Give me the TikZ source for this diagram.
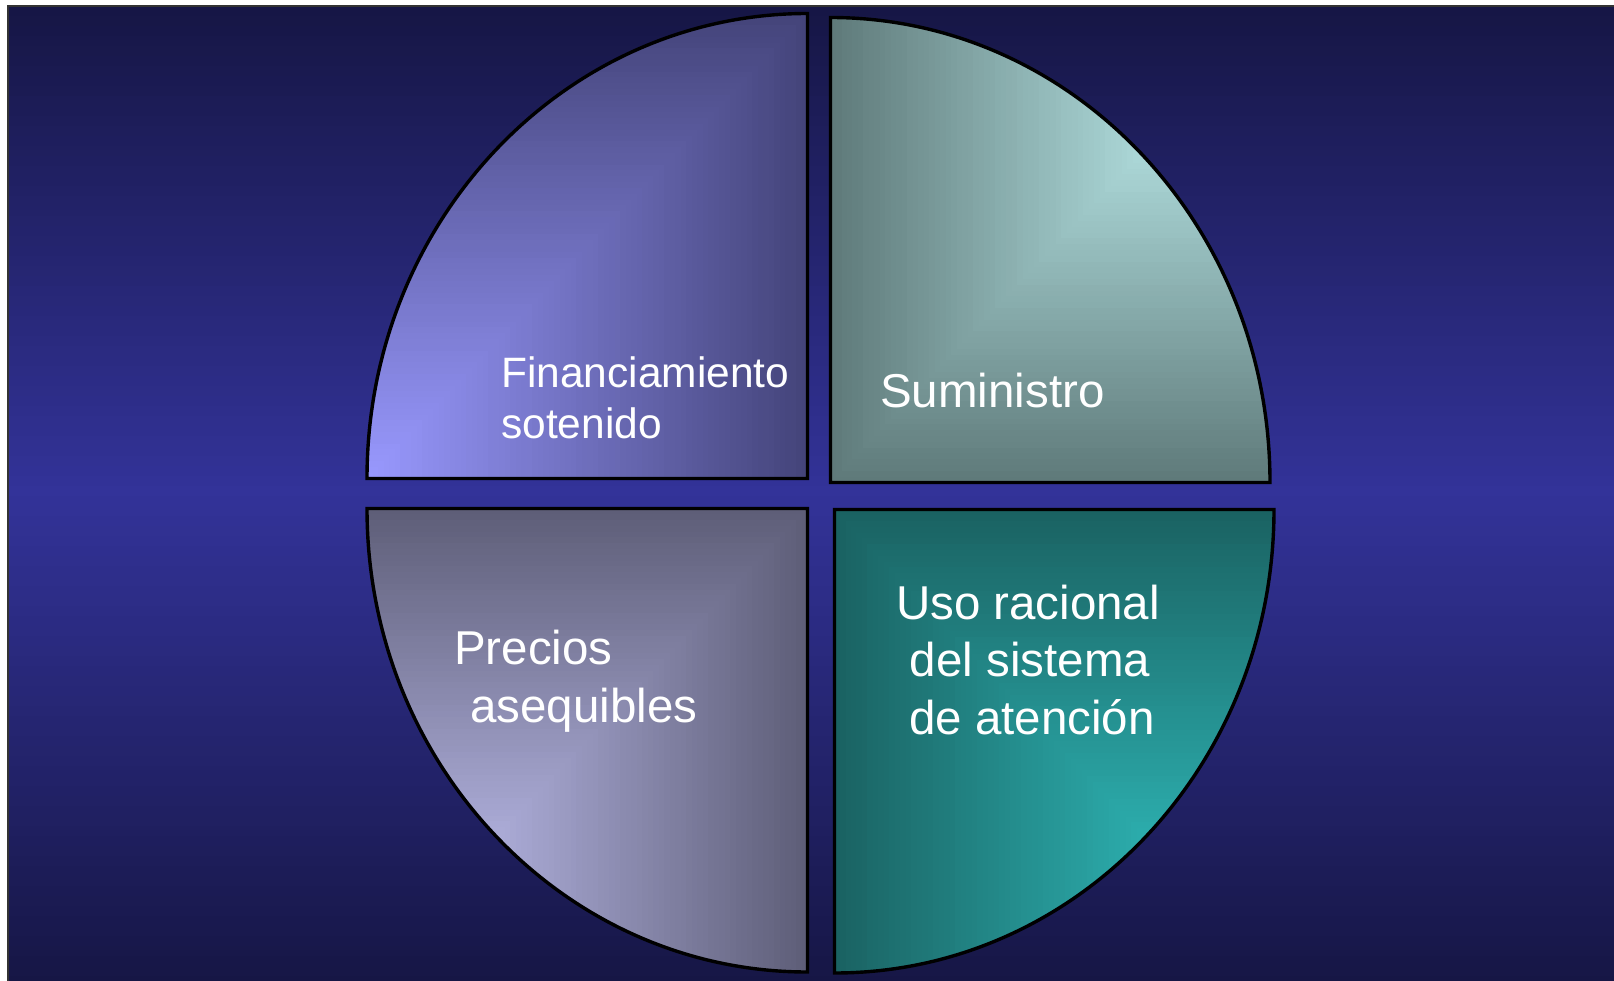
\documentclass[tikz,border=0pt]{standalone}
\usepackage{fontspec}
\setmainfont{Liberation Sans}
\definecolor{bgdark}{HTML}{161645}
\definecolor{bgmid}{HTML}{333399}
\definecolor{tlL}{HTML}{9999FF}\definecolor{tlD}{HTML}{44447A}
\definecolor{trL}{HTML}{CCFFFF}\definecolor{trD}{HTML}{5F7A7A}
\definecolor{blL}{HTML}{CCCCFF}\definecolor{blD}{HTML}{5E5E78}
\definecolor{brL}{HTML}{33CCCC}\definecolor{brD}{HTML}{1A6262}
\newcommand\cornerfill[6]{%
  \foreach \k in {80,79,...,1}{%
    \pgfmathsetmacro\ff{\k/80}%
    \pgfmathtruncatemacro\pp{round(100*(1-\ff))}%
    \fill[#5!\pp!#6] (#1,#2) rectangle ++({#3*\ff},{#4*\ff});
  }}
\tikzset{
  quadline/.style={draw=black, line width=3.4pt},
  lbl/.style={text=white, inner sep=0pt},
  bigtxt/.style={lbl, font=\fontsize{47.5}{56}\selectfont},
  midtxt/.style={lbl, font=\fontsize{42.5}{50}\selectfont}
}
\begin{document}
\begin{tikzpicture}[x=1pt,y=-1pt]
\useasboundingbox (0,0) rectangle (1614,981);
\fill[white] (0,0) rectangle (1614,981);
% vertical background gradient: dark - blue - dark
\foreach \j in {0,1,...,98}{%
  \pgfmathsetmacro\yy{6+\j*10}%
  \pgfmathtruncatemacro\pp{round(100*(1-abs(\j*10+5-487)/487))}%
  \fill[bgmid!\pp!bgdark] (8,\yy) rectangle (1614,\yy+10.6);
}
\draw[line width=1.5pt, black!80] (8,987) -- (8,6) -- (1620,6);

% top-left
\begin{scope}
\clip (807.5,478.5) -- (367,478.5) arc[start angle=180,end angle=270,x radius=440.5,y radius=465] -- cycle;
\cornerfill{367}{478.5}{440.5}{-465}{tlL}{tlD}
\end{scope}
\draw[quadline] (807.5,478.5) -- (367,478.5) arc[start angle=180,end angle=270,x radius=440.5,y radius=465] -- cycle;

% top-right
\begin{scope}
\clip (830.5,482.5) -- (830.5,17.5) arc[start angle=270,end angle=360,x radius=439.5,y radius=465] -- cycle;
\cornerfill{1270}{17.5}{-439.5}{465}{trL}{trD}
\end{scope}
\draw[quadline] (830.5,482.5) -- (830.5,17.5) arc[start angle=270,end angle=360,x radius=439.5,y radius=465] -- cycle;

% bottom-left
\begin{scope}
\clip (807.5,508.5) -- (807.5,972) arc[start angle=90,end angle=180,x radius=440.5,y radius=463.5] -- cycle;
\cornerfill{367}{972}{440.5}{-463.5}{blL}{blD}
\end{scope}
\draw[quadline] (807.5,508.5) -- (807.5,972) arc[start angle=90,end angle=180,x radius=440.5,y radius=463.5] -- cycle;

% bottom-right
\begin{scope}
\clip (834.5,509.5) -- (1274,509.5) arc[start angle=0,end angle=90,x radius=439.5,y radius=463.5] -- cycle;
\cornerfill{1274}{973}{-439.5}{-463.5}{brL}{brD}
\end{scope}
\draw[quadline] (834.5,509.5) -- (1274,509.5) arc[start angle=0,end angle=90,x radius=439.5,y radius=463.5] -- cycle;

% labels
\node[midtxt, anchor=base west] (fin1) at (501,388) {Financiamiento};
\node[midtxt, anchor=base west] (fin2) at (501,438) {sotenido};
\node[bigtxt, anchor=base west] (sum) at (880,407) {Suministro};
\node[bigtxt, anchor=base west] (pre1) at (454,664) {Precios};
\node[bigtxt, anchor=base west] (pre2) at (470,722) {asequibles};
\node[bigtxt, anchor=base] (uso1) at (1028,619) {Uso racional};
\node[bigtxt, anchor=base] (uso2) at (1030,676) {del sistema};
\node[bigtxt, anchor=base] (uso3) at (1032,734) {de atención};
\end{tikzpicture}
\end{document}
